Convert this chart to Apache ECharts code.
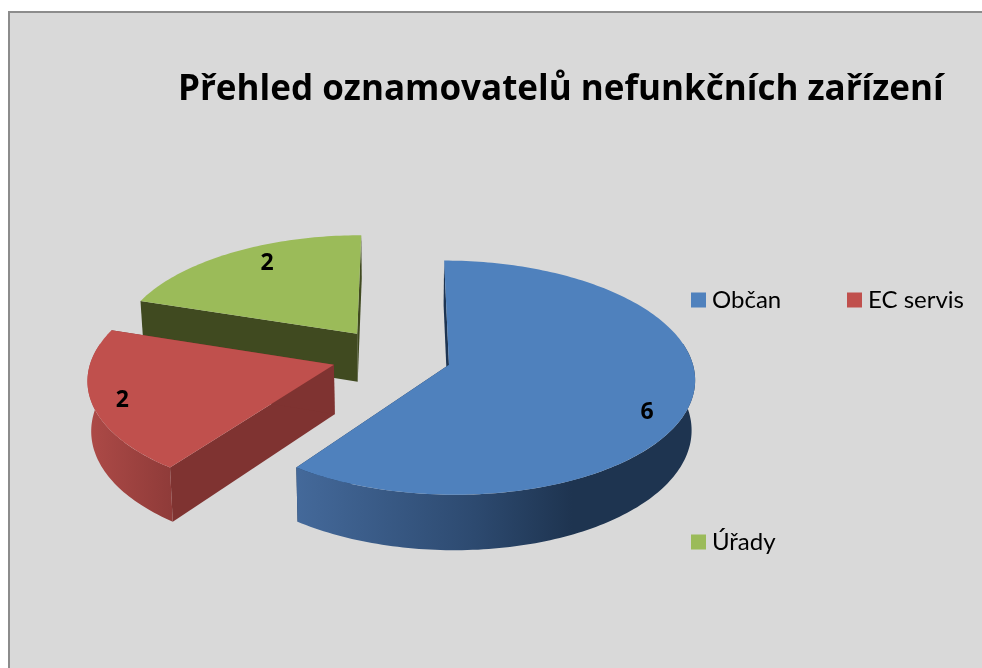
<!DOCTYPE html>
<html><head><meta charset="utf-8">
<style>html,body{margin:0;padding:0;background:#fff}#c{width:982px;height:668px}</style>
<script src="https://cdn.jsdelivr.net/npm/echarts@6/dist/echarts.min.js"></script>
</head><body><div id="c"></div>
<script>
const categories = ['Občan', 'EC servis', 'Úřady'];
const values = [6, 2, 2];
const chartTitle = 'Přehled oznamovatelů nefunkčních zařízení';

const FONT = 'Lato';
const TITLE_FONT = 'Open Sans';
const palette = [
  {top:'#4f81bd', cut:'#1d3452', wall:[[0,'#44699a'],[0.45,'#2d4a70'],[0.7,'#1e3450'],[1,'#1e3450']], wx:[297,690]},
  {top:'#c0504d', cut:'#7f3331', wall:[[0,'#ad4a47'],[1,'#8f3b39']], wx:[88,172]},
  {top:'#9bbb59', cut:'#404a20', wall:[[0,'#5c7030'],[1,'#5c7030']], wx:[140,360]}
];
const legendPos = [[691,288],[847,288],[691,530]];
const labelR = [0.84, 0.9, 0.68];
const labelShift = [[-4,17],[6,2],[-3,-14]];
const G = {ox:391.5, oy:356, vx:400, R:242, m:0.47, k:0.00045, depth:49, conv:0.012, explode:60};

const total = values.reduce((a,b)=>a+b,0);
function proj(X,Y,z){
  const s = 1/(1-G.k*Y), c = 1-G.conv*z;
  return [G.vx+(G.ox+X-G.vx)*s*c, G.oy+G.m*Y*s+G.depth*z*s];
}
function renderSlice(idx){
  return function(params, api){
    const before = values.slice(0,idx).reduce((a,b)=>a+b,0);
    const val = api.value(0);
    const a0 = before/total*2*Math.PI, a1 = (before+val)/total*2*Math.PI, mid=(a0+a1)/2;
    const ex = G.explode*Math.sin(mid), ey = -G.explode*Math.cos(mid);
    const pt = (a,r,z)=>proj(ex+r*G.R*Math.sin(a), ey-r*G.R*Math.cos(a), z);
    const arc = (b0,b1,z)=>{const n=Math.max(1,Math.ceil(Math.abs(b1-b0)/0.02)),o=[];
      for(let i=0;i<=n;i++){o.push(pt(b0+(b1-b0)*i/n,1,z));} return o;};
    const p = palette[idx];
    const c0=pt(0,0,0), c1=pt(0,0,1);
    const poly=(points,fill)=>({type:'polygon',shape:{points},style:{fill}});
    const lab = pt(mid,labelR[idx],0);
    // only the front-facing part of the rim is a visible wall
    const w0=Math.max(a0,Math.PI*0.44), w1=Math.min(a1,Math.PI*1.56);
    const children=[
      poly([c0,pt(a0,1,0),pt(a0,1,1),c1],p.cut),
      poly([c0,pt(a1,1,0),pt(a1,1,1),c1],p.cut)
    ];
    if(w1>w0) children.push(poly(arc(w0,w1,0).concat(arc(w1,w0,1)),{type:'linear',x:p.wx[0],y:0,x2:p.wx[1],y2:0,global:true,colorStops:p.wall.map(s=>({offset:s[0],color:s[1]}))}));
    children.push(poly([c0].concat(arc(a0,a1,0)),p.top));
    children.push({type:'text',x:lab[0]+labelShift[idx][0],y:lab[1]+labelShift[idx][1],style:{text:String(val),fontFamily:TITLE_FONT,fontWeight:'bold',fontSize:23,fill:'#000',align:'center',verticalAlign:'middle'}});
    return {type:'group',children};
  };
}
const chart = echarts.init(document.getElementById('c'),null,{renderer:'canvas'});
chart.setOption({
  animation:false,
  backgroundColor:'#ffffff',
  title:{text:chartTitle,left:173,top:68,textStyle:{fontFamily:TITLE_FONT,fontWeight:'bold',fontSize:35,color:'#000'}},
  graphic:[{type:'rect',z:-10,silent:true,shape:{x:9,y:12,width:1000,height:700},style:{fill:'#d9d9d9',stroke:'#8c8c8c',lineWidth:2}}],
  legend:categories.map((c,i)=>({data:[c],left:legendPos[i][0],top:legendPos[i][1],itemWidth:15,itemHeight:15,padding:0,
    icon:'rect',selectedMode:false,textStyle:{fontFamily:FONT,fontSize:24,color:'#000',padding:[0,0,0,1]}})),
  series:categories.map((c,i)=>({type:'custom',name:c,coordinateSystem:'none',silent:true,
    itemStyle:{color:palette[i].top},data:[[values[i]]],renderItem:renderSlice(i)})).reverse()
});
</script></body></html>
